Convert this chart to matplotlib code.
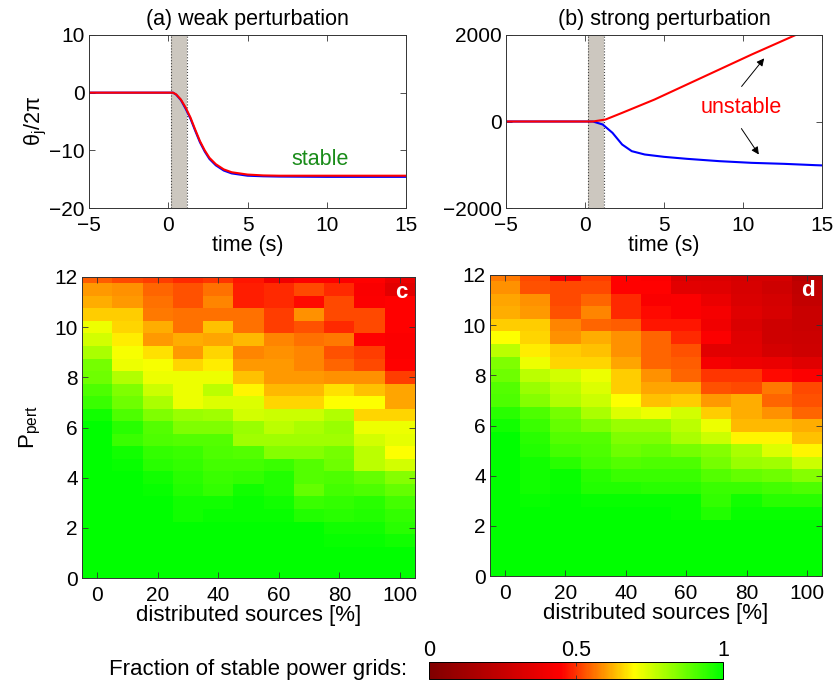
import numpy as np
import matplotlib
matplotlib.use("Agg")
import matplotlib.pyplot as plt
from matplotlib.colors import LinearSegmentedColormap

plt.rcParams['font.family'] = ['Liberation Sans', 'DejaVu Sans']
plt.rcParams['mathtext.fontset'] = 'custom'
plt.rcParams['mathtext.rm'] = 'Liberation Sans'
plt.rcParams['mathtext.it'] = 'Liberation Sans:italic'

# ---- time series: phase of two nodes after a perturbation ----
t_weak = [-5, 0.3, 0.5, 0.8, 1.1, 1.4, 1.7, 2.0, 2.3, 2.6, 3.0, 3.5, 4.0, 5.0, 6.0, 7.0, 10.0, 15.0]
weak_red = [0, 0, -0.3, -1.2, -2.6, -4.3, -6.4, -8.4, -10.0, -11.3, -12.4, -13.3, -13.8, -14.2,
            -14.35, -14.4, -14.4, -14.4]
weak_blue = [0, 0, -0.35, -1.3, -2.8, -4.5, -6.6, -8.6, -10.2, -11.5, -12.6, -13.5, -14.0, -14.4,
             -14.5, -14.55, -14.6, -14.6]

t_strong_red = [-5, 0.5, 1.3, 2.35, 4.4, 6.45, 8.5, 10.55, 13.4, 15.0]
strong_red = [0, 0, 46, 200, 508, 855, 1202, 1549, 2011, 2280]
t_strong_blue = [-5, 0.5, 1.12, 1.74, 2.35, 2.96, 3.78, 5.0, 6.45, 8.5, 10.55, 12.6, 14.6, 15.0]
strong_blue = [0, 0, -69, -262, -532, -686, -763, -817, -863, -917, -956, -979, -1010, -1015]

perturb_window = [0.2, 1.2]

# ---- stability maps ----
sources = [0, 10, 20, 30, 40, 50, 60, 70, 80, 90, 100]
p_pert = [12, 11.5, 11, 10.5, 10, 9.5, 9, 8.5, 8, 7.5, 7, 6.5, 6, 5.5, 5, 4.5, 4, 3.5, 3, 2.5, 2, 1.5, 1, 0.5, 0]

stable_frac_c = [
    [0.54, 0.52, 0.51, 0.49, 0.50, 0.47, 0.40, 0.44, 0.44, 0.45, 0.38],
    [0.60, 0.59, 0.55, 0.53, 0.56, 0.48, 0.49, 0.52, 0.49, 0.43, 0.35],
    [0.62, 0.60, 0.56, 0.53, 0.58, 0.48, 0.49, 0.46, 0.52, 0.44, 0.45],
    [0.65, 0.65, 0.57, 0.56, 0.56, 0.56, 0.51, 0.59, 0.52, 0.52, 0.45],
    [0.72, 0.66, 0.62, 0.56, 0.64, 0.56, 0.51, 0.53, 0.49, 0.52, 0.45],
    [0.75, 0.68, 0.60, 0.62, 0.61, 0.63, 0.58, 0.56, 0.57, 0.45, 0.44],
    [0.80, 0.71, 0.67, 0.60, 0.66, 0.58, 0.59, 0.58, 0.53, 0.51, 0.44],
    [0.86, 0.72, 0.71, 0.66, 0.68, 0.60, 0.60, 0.58, 0.55, 0.52, 0.45],
    [0.87, 0.79, 0.72, 0.72, 0.72, 0.64, 0.60, 0.60, 0.59, 0.59, 0.51],
    [0.91, 0.85, 0.76, 0.72, 0.78, 0.69, 0.63, 0.63, 0.67, 0.64, 0.61],
    [0.93, 0.87, 0.80, 0.72, 0.74, 0.74, 0.66, 0.66, 0.70, 0.70, 0.61],
    [0.98, 0.91, 0.85, 0.82, 0.81, 0.75, 0.76, 0.76, 0.79, 0.66, 0.66],
    [1.00, 0.95, 0.90, 0.85, 0.85, 0.82, 0.78, 0.80, 0.82, 0.72, 0.72],
    [1.00, 0.93, 0.91, 0.90, 0.90, 0.81, 0.81, 0.81, 0.81, 0.75, 0.73],
    [1.00, 0.98, 0.94, 0.93, 0.91, 0.90, 0.84, 0.84, 0.86, 0.78, 0.70],
    [1.00, 0.99, 0.95, 0.94, 0.92, 0.92, 0.93, 0.90, 0.87, 0.78, 0.75],
    [1.00, 1.00, 0.98, 0.95, 0.93, 0.94, 0.96, 0.90, 0.91, 0.88, 0.84],
    [1.00, 1.00, 0.99, 0.96, 0.94, 0.98, 0.96, 0.88, 0.92, 0.91, 0.88],
    [1.00, 1.00, 1.00, 0.98, 0.98, 0.99, 0.98, 0.93, 0.94, 0.95, 0.92],
    [1.00, 1.00, 1.00, 0.98, 0.99, 0.99, 0.99, 0.96, 0.95, 0.96, 0.94],
    [1.00, 1.00, 1.00, 1.00, 1.00, 1.00, 1.00, 1.00, 0.98, 0.98, 0.95],
    [1.00, 1.00, 1.00, 1.00, 1.00, 1.00, 1.00, 1.00, 0.99, 0.99, 0.98],
    [1.00, 1.00, 1.00, 1.00, 1.00, 1.00, 1.00, 1.00, 1.00, 1.00, 1.00],
    [1.00, 1.00, 1.00, 1.00, 1.00, 1.00, 1.00, 1.00, 1.00, 1.00, 1.00],
    [1.00, 1.00, 1.00, 1.00, 1.00, 1.00, 1.00, 1.00, 1.00, 1.00, 1.00],
]

stable_frac_d = [
    [0.57, 0.52, 0.42, 0.51, 0.45, 0.44, 0.32, 0.32, 0.30, 0.30, 0.21],
    [0.59, 0.53, 0.52, 0.52, 0.45, 0.45, 0.35, 0.34, 0.31, 0.28, 0.23],
    [0.61, 0.59, 0.52, 0.55, 0.49, 0.43, 0.44, 0.38, 0.32, 0.30, 0.24],
    [0.62, 0.60, 0.53, 0.58, 0.49, 0.46, 0.44, 0.42, 0.34, 0.31, 0.26],
    [0.65, 0.65, 0.58, 0.55, 0.54, 0.47, 0.47, 0.40, 0.32, 0.28, 0.26],
    [0.70, 0.66, 0.59, 0.62, 0.59, 0.55, 0.49, 0.44, 0.34, 0.28, 0.27],
    [0.78, 0.68, 0.65, 0.64, 0.59, 0.55, 0.53, 0.35, 0.35, 0.30, 0.28],
    [0.85, 0.72, 0.66, 0.66, 0.61, 0.55, 0.54, 0.42, 0.39, 0.38, 0.34],
    [0.87, 0.78, 0.75, 0.72, 0.65, 0.59, 0.55, 0.50, 0.50, 0.46, 0.44],
    [0.90, 0.82, 0.78, 0.74, 0.65, 0.61, 0.61, 0.53, 0.52, 0.57, 0.52],
    [0.91, 0.84, 0.79, 0.76, 0.70, 0.64, 0.65, 0.60, 0.62, 0.55, 0.53],
    [0.95, 0.91, 0.86, 0.80, 0.74, 0.72, 0.75, 0.65, 0.62, 0.59, 0.55],
    [0.98, 0.93, 0.88, 0.85, 0.82, 0.82, 0.78, 0.72, 0.63, 0.63, 0.62],
    [1.00, 0.95, 0.90, 0.90, 0.85, 0.85, 0.80, 0.76, 0.69, 0.69, 0.64],
    [1.00, 0.96, 0.92, 0.91, 0.87, 0.88, 0.86, 0.84, 0.80, 0.74, 0.69],
    [1.00, 0.98, 0.95, 0.92, 0.90, 0.91, 0.91, 0.86, 0.82, 0.81, 0.76],
    [1.00, 0.98, 0.99, 0.95, 0.93, 0.93, 0.93, 0.90, 0.88, 0.87, 0.84],
    [1.00, 0.98, 0.99, 0.96, 0.96, 0.95, 0.95, 0.93, 0.93, 0.92, 0.91],
    [1.00, 0.99, 1.00, 0.99, 0.99, 0.99, 0.99, 0.94, 0.98, 0.95, 0.95],
    [1.00, 1.00, 1.00, 1.00, 1.00, 1.00, 0.99, 0.96, 0.99, 0.99, 0.99],
    [1.00, 1.00, 1.00, 1.00, 1.00, 1.00, 1.00, 1.00, 1.00, 1.00, 1.00],
    [1.00, 1.00, 1.00, 1.00, 1.00, 1.00, 1.00, 1.00, 1.00, 1.00, 1.00],
    [1.00, 1.00, 1.00, 1.00, 1.00, 1.00, 1.00, 1.00, 1.00, 1.00, 1.00],
    [1.00, 1.00, 1.00, 1.00, 1.00, 1.00, 1.00, 1.00, 1.00, 1.00, 1.00],
    [1.00, 1.00, 1.00, 1.00, 1.00, 1.00, 1.00, 1.00, 1.00, 1.00, 1.00],
]

cbar_ticks = [0, 0.5, 1]

# dark red -> red -> yellow -> green
stab_cmap = LinearSegmentedColormap.from_list(
    'stability', [(0.0, (0.5, 0.0, 0.0)), (0.45, (1.0, 0.0, 0.0)),
                  (0.70, (1.0, 1.0, 0.0)), (1.0, (0.0, 1.0, 0.0))])

W, H = 836, 684
fig = plt.figure(figsize=(W / 100, H / 100), dpi=100)


def px_axes(x0, x1, y0, y1):
    return fig.add_axes([x0 / W, 1 - y1 / H, (x1 - x0) / W, (y1 - y0) / H])


def style(ax, fs, xpad):
    ax.tick_params(direction='in', top=True, right=True, length=4, width=0.6,
                   color='#333333', labelsize=fs)
    ax.tick_params(axis='y', pad=3)
    ax.tick_params(axis='x', pad=xpad)
    for s in ax.spines.values():
        s.set_linewidth(0.7)
        s.set_color('#333333')


TOP_FS = 15
LAB_FS = 15.5

# ---- (a) weak perturbation ----
ax_a = px_axes(89, 406, 35, 208)
ax_a.axvspan(*perturb_window, color=(0.80, 0.78, 0.75), lw=0)
for xv in perturb_window:
    ax_a.axvline(xv, color='#444444', ls=':', lw=0.8)
ax_a.plot(t_weak, weak_blue, color='blue', lw=1.5)
ax_a.plot(t_weak, weak_red, color='red', lw=1.5)
ax_a.set_xlim(-5, 15)
ax_a.set_ylim(-20, 10)
ax_a.set_xticks([-5, 0, 5, 10, 15])
ax_a.set_yticks([-20, -10, 0, 10])
ax_a.text(9.6, -11.6, 'stable', color=(0.1, 0.55, 0.1), fontsize=LAB_FS, ha='center', va='center')
ax_a.set_title('(a) weak perturbation', fontsize=LAB_FS, pad=7)
ax_a.set_xlabel('time (s)', fontsize=LAB_FS, labelpad=0)
ax_a.set_ylabel(r'θ$_{\rm j}$/2π', fontsize=LAB_FS, labelpad=0)
style(ax_a, TOP_FS, 6)

# ---- (b) strong perturbation ----
ax_b = px_axes(506, 822, 35, 208)
ax_b.axvspan(*perturb_window, color=(0.80, 0.78, 0.75), lw=0)
for xv in perturb_window:
    ax_b.axvline(xv, color='#444444', ls=':', lw=0.8)
ax_b.plot(t_strong_blue, strong_blue, color='blue', lw=1.5)
ax_b.plot(t_strong_red, strong_red, color='red', lw=1.5)
ax_b.set_xlim(-5, 15)
ax_b.set_ylim(-2000, 2000)
ax_b.set_xticks([-5, 0, 5, 10, 15])
ax_b.set_yticks([-2000, 0, 2000])
ax_b.text(9.9, 330, 'unstable', color='red', fontsize=LAB_FS, ha='center', va='center')
arrow = dict(arrowstyle='-|>', color='black', lw=0.7, mutation_scale=11)
ax_b.annotate('', xy=(11.45, 1510), xytext=(9.8, 760), arrowprops=arrow)
ax_b.annotate('', xy=(11.1, -816), xytext=(9.8, -110), arrowprops=arrow)
ax_b.set_title('(b) strong perturbation', fontsize=LAB_FS, pad=7)
ax_b.set_xlabel('time (s)', fontsize=LAB_FS, labelpad=0)
style(ax_b, TOP_FS, 6)

# ---- (c), (d) stability maps ----
maps = [(stable_frac_c, 'c', (82, 415, 277, 578)), (stable_frac_d, 'd', (490, 822, 275, 576))]
for vals, tag, (x0, x1, y0, y1) in maps:
    ax = px_axes(x0, x1, y0, y1)
    mesh = ax.pcolormesh(sources, p_pert, np.array(vals), cmap=stab_cmap, vmin=0, vmax=1,
                         shading='nearest')
    ax.set_xlim(-5, 105)
    ax.set_ylim(0, 12)
    ax.set_xticks([0, 20, 40, 60, 80, 100])
    ax.set_yticks([0, 2, 4, 6, 8, 10, 12])
    ax.text(100.5, 11.4, tag, color='white', fontsize=16, fontweight='bold', ha='center', va='center')
    ax.set_xlabel('distributed sources [%]', fontsize=16, labelpad=0)
    if tag == 'c':
        ax.set_ylabel(r'P$_{\rm pert}$', fontsize=16, labelpad=8)
    style(ax, 15, 6)

# ---- colorbar ----
cax = px_axes(429, 723, 662, 679)
cb = fig.colorbar(mesh, cax=cax, orientation='horizontal', ticks=cbar_ticks)
cb.ax.xaxis.set_ticks_position('both')
cb.ax.xaxis.set_label_position('top')
cb.ax.tick_params(direction='in', length=3, width=0.6, color='#333333', labelsize=15.5,
                  labeltop=True, labelbottom=False, pad=1)
cb.ax.set_xticklabels(['0', '0.5', '1'])
cb.outline.set_linewidth(0.7)
fig.text(407 / W, 1 - 670 / H, 'Fraction of stable power grids:', fontsize=16, ha='right', va='center')

fig.savefig('out.png', dpi=100)
